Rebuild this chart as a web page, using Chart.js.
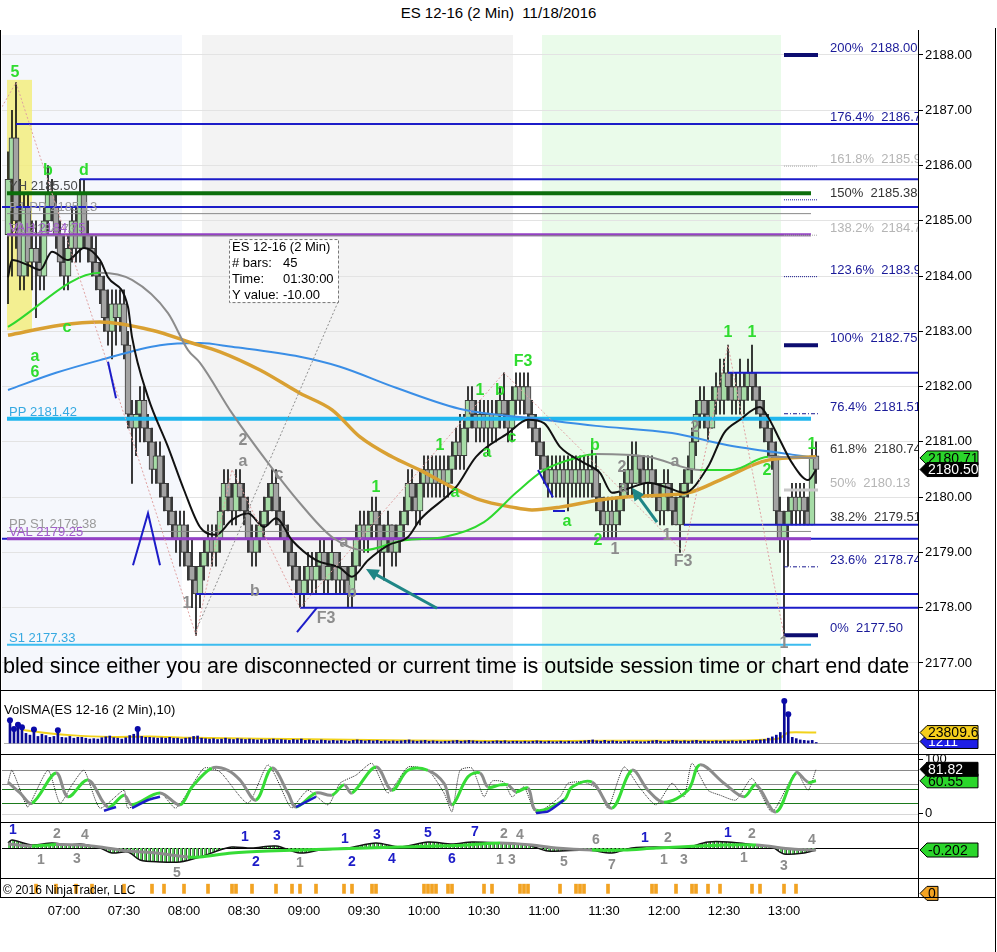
<!DOCTYPE html>
<html>
<head>
<meta charset="utf-8">
<title>ES 12-16 (2 Min) 11/18/2016</title>
<script src="https://cdn.jsdelivr.net/npm/chart.js@4.4.1/dist/chart.umd.min.js"></script>
<style>
  html, body { margin: 0; padding: 0; background: #fff; }
  body { position: relative; width: 997px; height: 952px; overflow: hidden; font-family: Arial, "Liberation Sans", sans-serif; }
  #title { position: absolute; left: 0; top: 4px; width: 997px; text-align: center; font-size: 15px; color: #000; }
  canvas { position: absolute; left: 0; }
  .rule { position: absolute; background: #000; }
</style>
</head>
<body>
<div id="title">ES 12-16 (2 Min)&nbsp; 11/18/2016</div>
<canvas id="priceChart" width="997" height="660" style="top:30px"></canvas>
<canvas id="volChart" width="997" height="64" style="top:690px"></canvas>
<canvas id="stochChart" width="997" height="68" style="top:754px"></canvas>
<canvas id="macdChart" width="997" height="56" style="top:822px"></canvas>
<canvas id="stripChart" width="997" height="52" style="top:878px"></canvas>
<div class="rule" style="left:0;top:30px;width:1px;height:868px"></div>
<div class="rule" style="left:918px;top:30px;width:1px;height:868px"></div>
<div class="rule" style="left:995px;top:28px;width:1px;height:924px"></div>
<div class="rule" style="left:0;top:690px;width:996px;height:1px"></div>
<div class="rule" style="left:0;top:754px;width:996px;height:1px"></div>
<div class="rule" style="left:0;top:822px;width:996px;height:1px"></div>
<div class="rule" style="left:0;top:878px;width:996px;height:1px"></div>
<div class="rule" style="left:0;top:897px;width:996px;height:1px"></div>
<script>
const FONT = 'Arial, "Liberation Sans", sans-serif';
Chart.defaults.font.family = FONT;
Chart.defaults.font.size = 13;
Chart.defaults.color = '#000';

// --- 2 min bars, index 0 = 06:32 ... 202 = 13:16 ---
const open = [
  2184.75, 2185.75, 2186.5, 2185.0, 2184.0, 2185.25, 2184.25, 2184.5, 2184.25, 2184.0,
  2185.0, 2185.5, 2185.25, 2184.75, 2184.25, 2184.0, 2184.5, 2185.0, 2184.5, 2185.5,
  2184.75, 2184.5, 2184.25, 2184.0, 2183.75, 2183.25, 2183.0, 2183.5, 2183.25, 2183.5,
  2182.75, 2181.5, 2181.25, 2181.5, 2181.75, 2181.25, 2181.0, 2180.5, 2180.75, 2180.25,
  2180.0, 2179.75, 2179.5, 2179.25, 2179.5, 2179.0, 2178.75, 2178.5, 2178.25, 2178.75,
  2179.0, 2179.25, 2179.0, 2179.25, 2179.75, 2180.25, 2180.0, 2179.75, 2180.25, 2180.0,
  2179.75, 2179.25, 2179.0, 2179.25, 2179.5, 2179.75, 2180.0, 2180.25, 2179.75, 2179.5,
  2179.25, 2179.0, 2178.75, 2178.5, 2178.25, 2178.5, 2178.75, 2178.5, 2178.75, 2179.0,
  2178.5, 2178.75, 2179.0, 2178.5, 2178.75, 2178.5, 2178.25, 2178.75, 2179.25, 2179.5,
  2179.25, 2179.5, 2179.75, 2179.5, 2179.0, 2179.25, 2179.5, 2179.0, 2179.25, 2179.5,
  2179.75, 2180.25, 2180.0, 2179.75, 2180.25, 2180.5, 2180.25, 2180.5, 2180.25, 2180.5,
  2180.25, 2180.5, 2180.75, 2181.0, 2180.75, 2181.25, 2181.75, 2181.5, 2181.25, 2181.5,
  2181.25, 2181.5, 2181.25, 2181.5, 2181.75, 2181.5, 2181.25, 2181.75, 2182.0, 2181.75,
  2182.0, 2181.5, 2181.25, 2181.0, 2180.75, 2180.5, 2180.25, 2180.5, 2180.25, 2180.5,
  2180.25, 2180.5, 2180.25, 2180.5, 2180.25, 2180.5, 2180.25, 2180.5, 2180.0, 2179.75,
  2179.5, 2179.75, 2179.5, 2179.75, 2180.0, 2180.25, 2180.5, 2180.25, 2180.75, 2180.5,
  2180.25, 2180.5, 2180.25, 2180.0, 2179.75, 2180.25, 2180.0, 2179.75, 2179.5, 2180.0,
  2180.25, 2180.5, 2181.0, 2181.5, 2181.75, 2181.5, 2181.25, 2181.75, 2182.0, 2181.75,
  2182.25, 2182.0, 2181.75, 2182.0, 2181.75, 2182.0, 2182.25, 2182.0, 2181.75, 2181.5,
  2181.25, 2181.0, 2180.75, 2179.75, 2179.25, 2179.5, 2179.75, 2180.0, 2179.75, 2180.0,
  2179.75, 2179.5, 2180.75
];
const high = [
  2186.25, 2187.0, 2187.5, 2185.75, 2185.5, 2185.5, 2185.0, 2185.0, 2184.75, 2185.25,
  2186.0, 2185.75, 2185.5, 2185.0, 2184.75, 2184.75, 2185.25, 2185.25, 2185.75, 2185.75,
  2185.0, 2184.75, 2184.75, 2184.25, 2184.0, 2183.75, 2183.75, 2183.75, 2183.75, 2183.75,
  2183.0, 2181.75, 2181.75, 2182.0, 2182.0, 2181.5, 2181.25, 2181.0, 2181.0, 2180.75,
  2180.25, 2180.0, 2179.75, 2179.75, 2179.75, 2179.5, 2179.25, 2178.75, 2179.0, 2179.25,
  2179.5, 2179.5, 2179.5, 2180.0, 2180.5, 2180.5, 2180.25, 2180.5, 2180.5, 2180.25,
  2180.0, 2179.5, 2179.5, 2179.75, 2180.0, 2180.25, 2180.5, 2180.5, 2180.0, 2179.75,
  2179.5, 2179.25, 2179.0, 2178.75, 2178.75, 2179.0, 2179.0, 2179.0, 2179.25, 2179.25,
  2179.0, 2179.25, 2179.0, 2179.0, 2178.75, 2178.75, 2179.0, 2179.5, 2179.75, 2179.75,
  2179.75, 2180.0, 2180.0, 2179.75, 2179.5, 2179.75, 2179.5, 2179.5, 2179.75, 2180.0,
  2180.5, 2180.5, 2180.25, 2180.5, 2180.75, 2180.75, 2180.75, 2180.75, 2180.75, 2180.75,
  2180.75, 2181.0, 2181.25, 2181.5, 2181.5, 2182.0, 2182.0, 2181.75, 2181.75, 2181.75,
  2181.75, 2181.75, 2181.75, 2182.0, 2182.25, 2181.75, 2182.0, 2182.25, 2182.25, 2182.25,
  2182.25, 2181.75, 2181.5, 2181.25, 2181.0, 2180.75, 2180.75, 2180.75, 2180.75, 2180.75,
  2180.75, 2180.75, 2180.75, 2180.75, 2180.75, 2180.75, 2181.0, 2180.75, 2180.25, 2180.0,
  2180.0, 2180.0, 2180.0, 2180.25, 2180.5, 2180.75, 2181.0, 2181.0, 2180.75, 2180.75,
  2180.75, 2180.75, 2180.5, 2180.25, 2180.5, 2180.5, 2180.25, 2180.0, 2180.25, 2180.5,
  2180.75, 2181.25, 2181.75, 2182.0, 2182.0, 2181.75, 2182.0, 2182.25, 2182.5, 2182.5,
  2182.75, 2182.25, 2182.25, 2182.5, 2182.25, 2182.5, 2182.75, 2182.25, 2182.0, 2181.75,
  2181.5, 2181.25, 2181.0, 2180.0, 2179.75, 2180.0, 2180.25, 2180.25, 2180.25, 2180.25,
  2180.0, 2181.0, 2181.0
];
const low = [
  2183.5, 2184.0, 2184.5, 2183.75, 2183.75, 2184.0, 2183.75, 2183.25, 2183.75, 2183.75,
  2184.75, 2185.0, 2184.5, 2184.0, 2183.75, 2183.75, 2184.25, 2184.25, 2184.25, 2184.5,
  2184.25, 2184.0, 2183.75, 2183.5, 2183.0, 2182.75, 2182.5, 2182.75, 2183.0, 2182.5,
  2181.25, 2180.25, 2180.75, 2181.0, 2181.0, 2180.75, 2180.25, 2180.25, 2180.0, 2179.75,
  2179.5, 2179.25, 2179.0, 2178.75, 2178.75, 2178.5, 2178.0, 2177.5, 2178.0, 2178.5,
  2178.75, 2178.75, 2178.75, 2179.0, 2179.5, 2179.75, 2179.5, 2179.5, 2179.75, 2179.5,
  2179.0, 2178.75, 2178.75, 2179.0, 2179.25, 2179.5, 2179.75, 2179.5, 2179.25, 2179.0,
  2178.75, 2178.5, 2178.25, 2178.0, 2178.0, 2178.25, 2178.25, 2178.25, 2178.5, 2178.25,
  2178.25, 2178.5, 2178.25, 2178.25, 2178.25, 2178.0, 2178.0, 2178.5, 2178.75, 2179.0,
  2179.0, 2179.25, 2179.25, 2178.75, 2178.5, 2179.0, 2178.75, 2178.75, 2179.0, 2179.25,
  2179.5, 2179.75, 2179.5, 2179.5, 2180.0, 2180.0, 2180.0, 2180.0, 2180.0, 2180.0,
  2180.0, 2180.25, 2180.5, 2180.5, 2180.5, 2181.0, 2181.25, 2181.0, 2181.0, 2181.0,
  2180.75, 2181.0, 2181.0, 2181.25, 2181.25, 2181.0, 2181.0, 2181.5, 2181.5, 2181.5,
  2181.25, 2181.0, 2180.75, 2180.5, 2180.25, 2180.0, 2180.0, 2180.0, 2180.0, 2180.0,
  2179.75, 2180.0, 2180.0, 2180.0, 2180.0, 2180.0, 2180.0, 2179.75, 2179.5, 2179.25,
  2179.25, 2179.25, 2179.25, 2179.5, 2179.75, 2180.0, 2180.0, 2180.25, 2180.25, 2180.0,
  2180.0, 2180.0, 2179.75, 2179.5, 2179.5, 2179.75, 2179.5, 2179.5, 2179.0, 2179.5,
  2180.0, 2180.25, 2180.75, 2181.25, 2181.25, 2181.0, 2181.25, 2181.5, 2181.5, 2181.5,
  2181.75, 2181.5, 2181.5, 2181.5, 2181.5, 2181.75, 2181.75, 2181.5, 2181.25, 2181.0,
  2180.75, 2180.5, 2179.5, 2179.0, 2177.5, 2178.75, 2179.5, 2179.5, 2179.5, 2179.5,
  2179.5, 2179.5, 2180.25
];
const close = [
  2185.75, 2186.5, 2185.0, 2184.0, 2185.25, 2184.25, 2184.5, 2184.25, 2184.0, 2185.0,
  2185.5, 2185.25, 2184.75, 2184.25, 2184.0, 2184.5, 2185.0, 2184.5, 2185.5, 2184.75,
  2184.5, 2184.25, 2184.0, 2183.75, 2183.25, 2183.0, 2183.5, 2183.25, 2183.5, 2182.75,
  2181.5, 2181.25, 2181.5, 2181.75, 2181.25, 2181.0, 2180.5, 2180.75, 2180.25, 2180.0,
  2179.75, 2179.5, 2179.25, 2179.5, 2179.0, 2178.75, 2178.5, 2178.25, 2178.75, 2179.0,
  2179.25, 2179.0, 2179.25, 2179.75, 2180.25, 2180.0, 2179.75, 2180.25, 2180.0, 2179.75,
  2179.25, 2179.0, 2179.25, 2179.5, 2179.75, 2180.0, 2180.25, 2179.75, 2179.5, 2179.25,
  2179.0, 2178.75, 2178.5, 2178.25, 2178.5, 2178.75, 2178.5, 2178.75, 2179.0, 2178.5,
  2178.75, 2179.0, 2178.5, 2178.75, 2178.5, 2178.25, 2178.75, 2179.25, 2179.5, 2179.25,
  2179.5, 2179.75, 2179.5, 2179.0, 2179.25, 2179.5, 2179.0, 2179.25, 2179.5, 2179.75,
  2180.25, 2180.0, 2179.75, 2180.25, 2180.5, 2180.25, 2180.5, 2180.25, 2180.5, 2180.25,
  2180.5, 2180.75, 2181.0, 2180.75, 2181.25, 2181.75, 2181.5, 2181.25, 2181.5, 2181.25,
  2181.5, 2181.25, 2181.5, 2181.75, 2181.5, 2181.25, 2181.75, 2182.0, 2181.75, 2182.0,
  2181.5, 2181.25, 2181.0, 2180.75, 2180.5, 2180.25, 2180.5, 2180.25, 2180.5, 2180.25,
  2180.5, 2180.25, 2180.5, 2180.25, 2180.5, 2180.25, 2180.5, 2180.0, 2179.75, 2179.5,
  2179.75, 2179.5, 2179.75, 2180.0, 2180.25, 2180.5, 2180.25, 2180.75, 2180.5, 2180.25,
  2180.5, 2180.25, 2180.0, 2179.75, 2180.25, 2180.0, 2179.75, 2179.5, 2180.0, 2180.25,
  2180.5, 2181.0, 2181.5, 2181.75, 2181.5, 2181.25, 2181.75, 2182.0, 2181.75, 2182.25,
  2182.0, 2181.75, 2182.0, 2181.75, 2182.0, 2182.25, 2182.0, 2181.75, 2181.5, 2181.25,
  2181.0, 2180.75, 2179.75, 2179.25, 2179.5, 2179.75, 2180.0, 2179.75, 2180.0, 2179.75,
  2179.5, 2180.75, 2180.5
];
const volume = [
  52000, 32000, 42000, 36000, 22000, 18000, 31000, 15000, 20000, 17000,
  13000, 15000, 29000, 13000, 12000, 15000, 11000, 13000, 13000, 11000,
  9000, 10000, 9000, 12000, 14000, 16000, 12000, 11000, 9000, 12000,
  17000, 20000, 32000, 15000, 13000, 13000, 12000, 11000, 12000, 11000,
  13000, 11000, 11000, 9000, 11000, 12000, 15000, 16000, 11000, 10000,
  9000, 10000, 8000, 9000, 11000, 9000, 8000, 10000, 9000, 8000,
  9000, 8000, 7000, 8000, 7000, 8000, 9000, 7000, 8000, 7000,
  6000, 8000, 7000, 9000, 6000, 7000, 6000, 5000, 7000, 6000,
  5000, 6000, 5000, 6000, 5000, 4000, 6000, 7000, 6000, 5000,
  6000, 5000, 6000, 4000, 5000, 4000, 5000, 4000, 5000, 6000,
  7000, 5000, 4000, 5000, 6000, 4000, 5000, 4000, 3000, 4000,
  4000, 5000, 6000, 4000, 5000, 6000, 5000, 4000, 3000, 4000,
  3000, 4000, 5000, 4000, 5000, 3000, 4000, 4000, 3000, 4000,
  3000, 4000, 5000, 4000, 3000, 4000, 3000, 3000, 4000, 3000,
  4000, 3000, 3000, 4000, 5000, 6000, 7000, 5000, 4000, 6000,
  4000, 5000, 4000, 3000, 4000, 5000, 3000, 4000, 3000, 3000,
  4000, 5000, 6000, 4000, 3000, 4000, 6000, 5000, 4000, 5000,
  4000, 5000, 6000, 4000, 5000, 4000, 4000, 5000, 4000, 5000,
  4000, 5000, 4000, 5000, 4000, 6000, 5000, 6000, 7000, 8000,
  11000, 14000, 18000, 24000, 96000, 66000, 13000, 10000, 7000, 6000,
  5000, 6000, 1211
];
const volumeDots = [0, 1, 2, 3, 6, 12, 32, 194, 195];
const volumeSma = [[3, 30000], [8, 24000], [15, 18000], [25, 14000], [35, 15000], [45, 12000], [55, 11000],
  [70, 9000], [90, 7000], [110, 5000], [130, 4500], [150, 5000], [170, 5000], [185, 6000], [190, 8000],
  [193, 11000], [194, 18000], [195, 24000], [202, 23809.6]];

// --- moving averages: [bar index, price] ---
const fastMa = [[0, 2183.98], [1, 2184.29], [5, 2184.2], [8, 2184.11], [11, 2184.44], [15, 2184.29], [19, 2184.51],
  [23, 2184.29], [25, 2183.98], [30, 2183.44], [31, 2182.9], [35, 2181.81], [40, 2180.91], [44, 2180.13],
  [48, 2179.46], [52, 2179.32], [56, 2179.59], [60, 2179.71], [64, 2179.46], [67, 2179.62], [71, 2179.22],
  [77, 2178.86], [83, 2178.72], [86, 2178.56], [90, 2178.86], [95, 2179.13], [100, 2179.28], [103, 2179.59],
  [112, 2180.18], [117, 2180.73], [125, 2181.16], [130, 2181.4], [134, 2181.34], [138, 2180.91], [144, 2180.62],
  [148, 2180.44], [151, 2180.08], [156, 2180.18], [160, 2180.26], [165, 2180.17], [169, 2180.08], [175, 2180.55],
  [179, 2181.16], [183, 2181.4], [188, 2181.63], [190, 2181.45], [193, 2181.03], [196, 2180.62], [200, 2180.31],
  [202, 2180.49]];
const trendMa = [[0, 2183.08], [23, 2184.06], [31, 2183.93], [40, 2183.33], [45, 2182.66], [48, 2182.43],
  [56, 2181.52], [65, 2180.62], [73, 2179.89], [81, 2179.28], [89, 2179.04], [99, 2179.22], [109, 2179.28],
  [119, 2179.55], [127, 2180.08], [134, 2180.49], [143, 2180.73], [147, 2180.78], [160, 2180.73], [173, 2180.49],
  [181, 2180.49], [190, 2180.73], [202, 2180.71]];
const slowMa = [[0, 2182.93], [13, 2183.11], [23, 2183.17], [36, 2183.02], [46, 2182.79], [53, 2182.63],
  [63, 2182.3], [73, 2181.88], [81, 2181.58], [88, 2181.09], [96, 2180.73], [103, 2180.49], [111, 2180.18],
  [118, 2179.95], [126, 2179.82], [131, 2179.77], [138, 2179.82], [148, 2179.95], [158, 2180.02], [170, 2180.08],
  [178, 2180.31], [190, 2180.67], [202, 2180.73]];
const longMa = [[0, 2181.94], [12, 2182.25], [23, 2182.48], [38, 2182.75], [48, 2182.79], [56, 2182.72],
  [73, 2182.54], [83, 2182.36], [97, 2181.98], [114, 2181.58], [131, 2181.43], [147, 2181.29], [166, 2181.16],
  [180, 2180.94], [196, 2180.77], [202, 2180.71]];

// --- axis ticks ---
const priceTicks = [2177, 2178, 2179, 2180, 2181, 2182, 2183, 2184, 2185, 2186, 2187, 2188];
const timeTickIdx = [14, 29, 44, 59, 74, 89, 104, 119, 134, 149, 164, 179, 194];
const timeTickLabels = ['07:00', '07:30', '08:00', '08:30', '09:00', '09:30', '10:00', '10:30', '11:00', '11:30', '12:00', '12:30', '13:00'];

// --- levels ---
const pivotNames = ['YH', 'R1 PP', 'R1', 'VAH', 'PP', 'PP S1', 'VAL', 'S1'];
const pivotPrices = [2185.50, 2185.13, 2184.73, 2184.75, 2181.42, 2179.38, 2179.25, 2177.33];
const swingLevels = [2186.75, 2185.75, 2185.25, 2182.25, 2179.50, 2179.25, 2178.25, 2178.00];
const swingLevelStart = [2, 18, -1.5, 180, 169, -1.5, 47, 73];
const fibPct = ['200%', '176.4%', '161.8%', '150%', '138.2%', '123.6%', '100%', '76.4%', '61.8%', '50%', '38.2%', '23.6%', '0%'];
const fibPrices = [2188.00, 2186.76, 2185.99, 2185.38, 2184.74, 2183.99, 2182.75, 2181.51, 2180.74, 2180.13, 2179.51, 2178.74, 2177.50];

// --- drawings ---
const sessionBands = [[-2, 43.5], [48.5, 126.25], [133.5, 193.25]];
const highlightBox = [[-0.25, 2187.55], [6, 2183.02]];
const zigzag = [[-2, 2187.0], [2, 2187.5], [47, 2177.5], [56, 2180.5], [73, 2178.0], [124, 2182.25], [169, 2179.0], [180, 2182.75], [194, 2177.5]];
const measureLine = [[82.5, 2183.53], [46.75, 2177.54]];
const blueMarks = [[[25, 2182.45], [27, 2181.79]], [[31.25, 2178.77], [35, 2179.71], [38, 2178.77]],
  [[72.25, 2177.56], [77.25, 2178.0]], [[132.5, 2180.49], [136.25, 2180.0]], [[136.25, 2179.75], [139.25, 2179.75]]];
const arrows = [[[107.25, 2177.99], [89.5, 2178.7]], [[162.25, 2179.55], [156, 2180.17]]];
const infoBox = [[55.25, 2184.67], [82.5, 2183.53]];
const infoLines = [['ES 12-16 (2 Min)', ''], ['# bars:', '45'], ['Time:', '01:30:00'], ['Y value:', '-10.00']];
const greenMarks = [['5', 1.75, 2187.69], ['b', 10, 2185.9], ['d', 19, 2185.9], ['c', 14.75, 2183.06], ['a', 6.75, 2182.55],
  ['6', 6.75, 2182.25], ['1', 92, 2180.17], ['1', 108, 2180.93], ['a', 111.75, 2180.09], ['1', 118, 2181.92],
  ['b', 123, 2181.92], ['F3', 128.75, 2182.45], ['a', 119.75, 2180.8], ['c', 126, 2181.07], ['b', 146.75, 2180.93],
  ['a', 139.75, 2179.55], ['2', 147.5, 2179.22], ['1', 180, 2182.97], ['1', 186, 2182.97], ['2', 189.75, 2180.49],
  ['1', 201, 2180.96]];
const grayMarks = [['2', 58.75, 2181.02], ['a', 58.75, 2180.65], ['c', 67.75, 2180.4], ['1', 44.75, 2178.07],
  ['b', 61.75, 2178.3], ['F3', 79.5, 2177.81], ['b', 86, 2178.28], ['a', 84, 2179.17], ['2', 153.5, 2180.53],
  ['a', 153.75, 2180.18], ['1', 151.75, 2179.06], ['1', 164.75, 2179.3], ['F3', 168.75, 2178.83],
  ['a', 166.75, 2180.64], ['2', 171.75, 2181.25], ['1', 194, 2177.36]];

// --- stochastics ---
const stochSlow = [[0, 58], [3, 38], [6, 19], [12, 75], [15, 31], [20, 62], [25, 12], [29, 34], [31, 16], [38, 38],
  [43, 16], [46, 49], [51, 84], [55, 80], [58, 62], [62, 25], [66, 84], [70, 38], [72, 12], [77, 38], [81, 34],
  [84, 53], [86, 38], [92, 86], [96, 43], [100, 80], [105, 80], [109, 56], [111, 16], [115, 68], [118, 75],
  [120, 49], [123, 53], [125, 53], [127, 40], [130, 47], [132, 6], [139, 25], [141, 49], [146, 58], [151, 10],
  [156, 80], [160, 43], [164, 21], [170, 43], [173, 90], [179, 56], [184, 31], [187, 53], [192, 3], [197, 75],
  [200, 58], [202, 60.55]];
const stochFast = [[0, 58], [1, 80], [4, 25], [5, 12], [10, 80], [13, 19], [16, 53], [19, 80], [23, 10], [29, 43],
  [30, 10], [38, 38], [42, 10], [49, 84], [53, 77], [60, 19], [65, 90], [70, 19], [71, 10], [75, 43], [80, 16],
  [83, 56], [87, 71], [91, 93], [95, 38], [100, 86], [105, 80], [109, 38], [111, 3], [113, 80], [116, 84],
  [119, 31], [121, 60], [124, 58], [126, 31], [129, 49], [132, 2], [138, 31], [140, 56], [144, 58], [148, 43],
  [150, 10], [154, 86], [158, 47], [162, 16], [166, 56], [169, 31], [171, 93], [175, 43], [178, 34], [182, 25],
  [186, 65], [191, 3], [197, 77], [200, 43], [202, 81.82]];
const stochBlue = [[[24, 5], [27, 12]], [[31, 10], [35, 25], [38, 31]], [[72, 12], [77, 31]], [[132, 1], [135, 4], [139, 25]]];
const stochLevels = [80, 55, 45, 20, 0];

// --- MACD ---
const macdLine = [[0, 0.5], [1, 0.8], [6, 0.3], [11, 0.5], [15, 0.3], [18, 0.4], [23, 0.0], [26, -0.5], [30, -0.4],
  [33, -1.2], [38, -1.4], [43, -1.4], [48, -0.9], [53, -0.2], [56, 0.1], [61, 0.0], [67, 0.2], [73, -0.5],
  [78, -0.2], [85, 0.0], [92, 0.5], [98, 0.1], [105, 0.6], [111, 0.4], [116, 0.6], [123, 0.5], [130, 0.3],
  [135, -0.3], [145, -0.2], [151, -0.5], [156, 0.0], [162, 0.1], [169, 0.0], [175, 0.6], [180, 0.6], [187, 0.3],
  [191, 0.1], [194, -0.6], [199, -0.5], [202, -0.202]];
const macdSignal = [[0, 0.4], [6, 0.2], [12, 0.35], [18, 0.3], [23, 0.1], [30, -0.3], [37, -0.5], [45, -0.9],
  [48, -0.9], [56, -0.5], [65, -0.3], [81, -0.1], [98, 0.1], [115, 0.3], [123, 0.5], [131, 0.3], [137, 0.0],
  [146, -0.2], [154, -0.2], [162, 0.0], [179, 0.3], [187, 0.3], [196, -0.1], [202, -0.2]];
const macdBlueMarks = [['1', 1.25, 1.8], ['1', 59.25, 1.1], ['3', 67.25, 1.2], ['2', 62, -1.4], ['1', 84.25, 0.9],
  ['3', 92.25, 1.3], ['2', 86, -1.4], ['4', 96, -1.1], ['5', 105, 1.5], ['6', 111, -1.1], ['7', 116.75, 1.6],
  ['1', 159.25, 1.0], ['1', 180, 1.5]];
const macdGrayMarks = [['2', 12.25, 1.4], ['4', 19.25, 1.3], ['1', 8.25, -1.2], ['3', 17.25, -1.1], ['5', 42.25, -2.5],
  ['1', 73, -1.5], ['2', 124, 1.4], ['4', 128, 1.3], ['1', 123, -1.2], ['3', 126, -1.2], ['5', 139, -1.4],
  ['6', 147, 0.8], ['7', 151, -1.7], ['2', 165, 1.0], ['1', 164, -1.2], ['3', 169, -1.2], ['2', 186, 1.4],
  ['1', 184, -1.0], ['3', 194, -1.8], ['4', 201, 0.8]];

// --- signal strip ---
const signalBars = [7, 12, 17, 21, 29, 36, 39, 44, 50, 56, 57, 61, 67, 71, 73, 77, 84, 86, 91, 92, 104, 105, 106, 107,
  110, 111, 119, 121, 128, 129, 130, 138, 142, 143, 144, 150, 161, 162, 167, 171, 172, 175, 178, 186, 188, 194, 197];

// --- helpers ---
const X_MIN = -1.5, X_MAX = 227.5;
const bars = open.map((o, i) => i);
const pts = arr => arr.map(([i, v]) => ({ x: i, y: v }));

function polyline(ctx, sx, sy, list) {
  ctx.beginPath();
  list.forEach(([i, v], k) => {
    const px = sx.getPixelForValue(i), py = sy.getPixelForValue(v);
    if (k) ctx.lineTo(px, py); else ctx.moveTo(px, py);
  });
  ctx.stroke();
}

function drawArrow(ctx, sx, sy, from, to) {
  const x0 = sx.getPixelForValue(from[0]), y0 = sy.getPixelForValue(from[1]);
  const x1 = sx.getPixelForValue(to[0]), y1 = sy.getPixelForValue(to[1]);
  const ang = Math.atan2(y1 - y0, x1 - x0);
  ctx.strokeStyle = ctx.fillStyle = '#1f8686';
  ctx.lineWidth = 3;
  ctx.beginPath();
  ctx.moveTo(x0, y0);
  ctx.lineTo(x1 - 9 * Math.cos(ang), y1 - 9 * Math.sin(ang));
  ctx.stroke();
  ctx.beginPath();
  ctx.moveTo(x1, y1);
  ctx.lineTo(x1 - 14 * Math.cos(ang - 0.45), y1 - 14 * Math.sin(ang - 0.45));
  ctx.lineTo(x1 - 14 * Math.cos(ang + 0.45), y1 - 14 * Math.sin(ang + 0.45));
  ctx.closePath();
  ctx.fill();
}

function drawTag(ctx, yc, text, bg, fg, w) {
  const x0 = 920, h = 14;
  w = w || 58;
  ctx.beginPath();
  ctx.moveTo(x0, yc);
  ctx.lineTo(x0 + 7, yc - h / 2);
  ctx.lineTo(x0 + w, yc - h / 2);
  ctx.lineTo(x0 + w, yc + h / 2);
  ctx.lineTo(x0 + 7, yc + h / 2);
  ctx.closePath();
  ctx.fillStyle = bg;
  ctx.fill();
  ctx.strokeStyle = '#000';
  ctx.lineWidth = 1;
  ctx.stroke();
  ctx.fillStyle = fg;
  ctx.font = '14px ' + FONT;
  ctx.textAlign = 'left';
  ctx.textBaseline = 'middle';
  ctx.fillText(text, x0 + 8, yc + 1);
}

function marks(ctx, sx, sy, list, color, font) {
  ctx.fillStyle = color;
  ctx.font = font;
  ctx.textAlign = 'center';
  ctx.textBaseline = 'middle';
  list.forEach(([t, i, v]) => ctx.fillText(t, sx.getPixelForValue(i), sy.getPixelForValue(v)));
}

function clipArea(ctx, a) {
  ctx.beginPath();
  ctx.rect(a.left, a.top, a.right - a.left, a.bottom - a.top);
  ctx.clip();
}

function panelOptions(yOpts, xOpts) {
  return {
    responsive: false,
    animation: false,
    events: [],
    layout: { padding: { left: 2, right: 0, top: 0, bottom: 0 } },
    plugins: { legend: { display: false }, tooltip: { enabled: false } },
    scales: {
      x: Object.assign({ type: 'linear', min: X_MIN, max: X_MAX, offset: false, display: false, grid: { display: false, offset: false } }, xOpts || {}),
      y: Object.assign({
        position: 'right',
        ticks: { display: false },
        grid: { display: false },
        border: { display: false },
        afterFit: s => { s.width = 79; s.paddingTop = 0; s.paddingBottom = 0; }
      }, yOpts)
    }
  };
}

function levelLine(from, to, price, color, width, dash, order) {
  return { type: 'line', data: [{ x: from, y: price }, { x: to, y: price }], borderColor: color, borderWidth: width,
    borderDash: dash || [], pointRadius: 0, tension: 0, order: order };
}

// --- styles ---
const pivotStyle = {
  'YH': { color: '#0b6e0b', width: 4, text: '#4a4a4a' },
  'R1 PP': { color: '#8a8a8a', width: 1, text: '#9a9a9a' },
  'R1': { color: '#8a8a8a', width: 1, text: '#9a9a9a' },
  'VAH': { color: '#9440c4', width: 3, text: '#a25bcc' },
  'PP': { color: '#1fb6ee', width: 4, text: '#36a9e1' },
  'PP S1': { color: '#8a8a8a', width: 1, text: '#9a9a9a' },
  'VAL': { color: '#9440c4', width: 3, text: '#a25bcc' },
  'S1': { color: '#3cbcef', width: 2, text: '#36a9e1' }
};
function fibLine(pct) {
  if (['200%', '100%', '0%'].includes(pct)) return { color: '#0d0d70', width: 4, dash: [] };
  if (['161.8%', '138.2%'].includes(pct)) return { color: '#a8a8a8', width: 1, dash: [1, 1] };
  if (['150%', '123.6%'].includes(pct)) return { color: '#1a1a90', width: 1, dash: [1, 1] };
  if (['76.4%', '23.6%'].includes(pct)) return { color: '#1a1a90', width: 1, dash: [4, 2, 1, 2] };
  if (pct === '50%') return { color: '#c8c8c8', width: 3, dash: [] };
  return null;
}
function fibText(pct) {
  if (['161.8%', '138.2%', '50%'].includes(pct)) return '#b5b5b5';
  if (['150%', '61.8%', '38.2%'].includes(pct)) return '#333333';
  return '#1a1a99';
}
const bandColors = ['#f5f7fc', '#f3f3f3', '#eafbea'];

// --- price panel ---
const priceDatasets = [
  { type: 'bar', data: bars.map(i => ({ x: i, y: [low[i], high[i]] })), backgroundColor: '#111', barThickness: 1, grouped: false, order: 20 },
  { type: 'bar', data: bars.map(i => ({ x: i, y: [Math.min(open[i], close[i]), Math.max(open[i], close[i])] })),
    backgroundColor: c => close[c.dataIndex] >= open[c.dataIndex] ? '#a6dca6' : '#a3a3a3',
    borderColor: '#3a3a3a', borderWidth: 1, borderSkipped: false, barThickness: 6, grouped: false, minBarLength: 1, order: 19 }
];
swingLevels.forEach((p, k) => priceDatasets.push(levelLine(swingLevelStart[k], X_MAX, p, '#1c1cc8', 2, [], 12)));
pivotNames.forEach((n, k) => priceDatasets.push(levelLine(-0.25, 200.75, pivotPrices[k], pivotStyle[n].color, pivotStyle[n].width, [], 11)));
fibPct.forEach((pct, k) => {
  const f = fibLine(pct);
  if (f) priceDatasets.push(levelLine(194, 202.5, fibPrices[k], f.color, f.width, f.dash, 10));
});
priceDatasets.push(
  { type: 'line', data: pts(longMa), borderColor: '#3a8ee6', borderWidth: 2, pointRadius: 0, cubicInterpolationMode: 'monotone', order: 4 },
  { type: 'line', data: pts(slowMa), borderColor: '#d9a032', borderWidth: 3.5, pointRadius: 0, cubicInterpolationMode: 'monotone', order: 3 },
  { type: 'line', data: pts(trendMa), borderColor: '#2ed82e', borderWidth: 2, pointRadius: 0, cubicInterpolationMode: 'monotone', order: 2,
    segment: { borderColor: c => c.p1.parsed.y >= c.p0.parsed.y ? '#2ed82e' : '#8c8c8c' } },
  { type: 'line', data: pts(fastMa), borderColor: '#111', borderWidth: 2, pointRadius: 0, cubicInterpolationMode: 'monotone', order: 1 }
);

const priceDecor = {
  id: 'priceDecor',
  beforeDraw(chart) {
    const { ctx, chartArea: a, scales: { x } } = chart;
    ctx.save();
    sessionBands.forEach(([from, to], k) => {
      const x0 = Math.max(a.left, x.getPixelForValue(from));
      const x1 = Math.min(a.right, x.getPixelForValue(to));
      ctx.fillStyle = bandColors[k];
      ctx.fillRect(x0, a.top + 5, x1 - x0, a.bottom - a.top - 5);
    });
    ctx.restore();
  },
  beforeDatasetsDraw(chart) {
    const { ctx, scales: { x, y } } = chart;
    const [[i0, p0], [i1, p1]] = highlightBox;
    ctx.save();
    ctx.fillStyle = 'rgba(243, 236, 118, 0.8)';
    ctx.fillRect(x.getPixelForValue(i0), y.getPixelForValue(p0),
      x.getPixelForValue(i1) - x.getPixelForValue(i0), y.getPixelForValue(p1) - y.getPixelForValue(p0));
    ctx.restore();
  },
  afterDatasetsDraw(chart) {
    const { ctx, chartArea: a, scales: { x, y } } = chart;
    ctx.save();
    clipArea(ctx, a);

    // swing zigzag and measure line
    ctx.lineWidth = 1;
    ctx.setLineDash([2, 2]);
    ctx.strokeStyle = '#e0a2a2';
    polyline(ctx, x, y, zigzag);
    ctx.strokeStyle = '#8f8f8f';
    polyline(ctx, x, y, measureLine);
    ctx.setLineDash([]);

    // blue trend strokes
    ctx.strokeStyle = '#1c1cc8';
    ctx.lineWidth = 2;
    blueMarks.forEach(m => polyline(ctx, x, y, m));

    arrows.forEach(([from, to]) => drawArrow(ctx, x, y, from, to));

    // pivot labels
    ctx.font = '13px ' + FONT;
    ctx.textAlign = 'left';
    ctx.textBaseline = 'alphabetic';
    pivotNames.forEach((n, k) => {
      ctx.fillStyle = pivotStyle[n].text;
      ctx.fillText(n + ' ' + pivotPrices[k].toFixed(2), x.getPixelForValue(0.25), y.getPixelForValue(pivotPrices[k]) - 3);
    });

    // fib labels
    fibPct.forEach((pct, k) => {
      ctx.fillStyle = fibText(pct);
      ctx.fillText(pct + '  ' + fibPrices[k].toFixed(2), x.getPixelForValue(205.5), y.getPixelForValue(fibPrices[k]) - 3);
    });

    // wave counts
    marks(ctx, x, y, greenMarks, '#2fdc2f', 'bold 16px ' + FONT);
    marks(ctx, x, y, grayMarks, '#8c8c8c', 'bold 16px ' + FONT);

    // info box
    const bx0 = x.getPixelForValue(infoBox[0][0]), by0 = y.getPixelForValue(infoBox[0][1]);
    const bx1 = x.getPixelForValue(infoBox[1][0]), by1 = y.getPixelForValue(infoBox[1][1]);
    ctx.fillStyle = '#fff';
    ctx.fillRect(bx0, by0, bx1 - bx0, by1 - by0);
    ctx.setLineDash([3, 2]);
    ctx.strokeStyle = '#777';
    ctx.lineWidth = 1;
    ctx.strokeRect(bx0 + 0.5, by0 + 0.5, bx1 - bx0, by1 - by0);
    ctx.setLineDash([]);
    ctx.fillStyle = '#000';
    ctx.font = '13px ' + FONT;
    ctx.textAlign = 'left';
    ctx.textBaseline = 'middle';
    infoLines.forEach(([k, v], n) => {
      ctx.fillText(k, bx0 + 3, by0 + 8 + n * 16);
      if (v) ctx.fillText(v, bx0 + 54, by0 + 8 + n * 16);
    });

    // connection message
    ctx.fillStyle = '#000';
    ctx.font = '21.6px ' + FONT;
    ctx.textBaseline = 'alphabetic';
    ctx.fillText('bled since either you are disconnected or current time is outside session time or chart end date', a.left + 1, a.bottom - 17);
    ctx.restore();
  },
  afterDraw(chart) {
    const { ctx, scales: { y } } = chart;
    ctx.save();
    drawTag(ctx, y.getPixelForValue(2180.71), '2180.71', '#2bd62b', '#000');
    drawTag(ctx, y.getPixelForValue(2180.50), '2180.50', '#000', '#fff');
    ctx.restore();
  }
};

const priceOpts = panelOptions({
  position: 'right',
  min: 2176.5115,
  max: 2188.4523,
  afterBuildTicks: s => { s.ticks = priceTicks.map(v => ({ value: v })); },
  ticks: { display: true, callback: v => Number(v).toFixed(2), color: '#000', font: { size: 13 }, padding: 2 },
  grid: { display: true, color: '#e3e3e3', tickColor: '#000', tickLength: 5 },
  border: { display: false },
  afterFit: s => { s.width = 79; s.paddingTop = 0; s.paddingBottom = 0; }
});
new Chart(document.getElementById('priceChart'), {
  type: 'bar',
  data: { datasets: priceDatasets },
  options: priceOpts,
  plugins: [priceDecor]
});

// --- volume panel ---
const volDecor = {
  id: 'volDecor',
  beforeDatasetsDraw(chart) {
    const { ctx, chartArea: a, scales: { y } } = chart;
    ctx.save();
    ctx.strokeStyle = '#b0b0b0';
    ctx.lineWidth = 1;
    ctx.beginPath();
    ctx.moveTo(a.left, Math.round(y.getPixelForValue(0)) + 0.5);
    ctx.lineTo(a.right, Math.round(y.getPixelForValue(0)) + 0.5);
    ctx.stroke();
    ctx.restore();
  },
  afterDatasetsDraw(chart) {
    const { ctx } = chart;
    ctx.save();
    ctx.fillStyle = '#000';
    ctx.font = '13px ' + FONT;
    ctx.textAlign = 'left';
    ctx.textBaseline = 'alphabetic';
    ctx.fillText('VolSMA(ES 12-16 (2 Min),10)', 4, 24);
    ctx.restore();
  },
  afterDraw(chart) {
    const { ctx, scales: { y } } = chart;
    ctx.save();
    drawTag(ctx, y.getPixelForValue(volume[volume.length - 1]) - 1, '1211', '#1f1fe6', '#fff');
    drawTag(ctx, y.getPixelForValue(23809.6), '23809.6', '#f5cf1c', '#000');
    ctx.restore();
  }
};
new Chart(document.getElementById('volChart'), {
  type: 'bar',
  data: { datasets: [
    { type: 'line', data: volumeDots.map(i => ({ x: i, y: volume[i] })), showLine: false, pointRadius: 3,
      pointBackgroundColor: '#0a0aa8', pointBorderWidth: 0, order: 0 },
    { type: 'bar', data: bars.map(i => ({ x: i, y: volume[i] })), backgroundColor: '#0a0a96', barThickness: 2, grouped: false, order: 1 },
    { type: 'line', data: pts(volumeSma), borderColor: '#f2d21b', borderWidth: 2, pointRadius: 0, tension: 0.2, order: 2 }
  ] },
  options: panelOptions({ min: -16000, max: 112000 }),
  plugins: [volDecor]
});

// --- stochastics panel ---
const stochDecor = {
  id: 'stochDecor',
  beforeDatasetsDraw(chart) {
    const { ctx, chartArea: a, scales: { y } } = chart;
    const colors = ['#8a8a8a', '#8a8a8a', '#1d7a1d', '#1d7a1d', '#d6d6d6'];
    ctx.save();
    stochLevels.forEach((v, k) => {
      const py = Math.round(y.getPixelForValue(v)) + 0.5;
      ctx.strokeStyle = colors[k];
      ctx.lineWidth = 1;
      ctx.beginPath();
      ctx.moveTo(a.left, py);
      ctx.lineTo(a.right, py);
      ctx.stroke();
    });
    ctx.restore();
  },
  afterDraw(chart) {
    const { ctx, scales: { y } } = chart;
    ctx.save();
    drawTag(ctx, y.getPixelForValue(60.55), '60.55', '#2bd62b', '#000');
    drawTag(ctx, y.getPixelForValue(81.82), '81.82', '#000', '#fff');
    ctx.restore();
  }
};
const stochDatasets = [
  { type: 'line', data: pts(stochFast), borderColor: '#222', borderWidth: 1, borderDash: [1, 1], pointRadius: 0, tension: 0.2, order: 3 },
  { type: 'line', data: pts(stochSlow), borderColor: '#2ed82e', borderWidth: 3, pointRadius: 0, tension: 0.35, order: 2,
    segment: { borderColor: c => c.p1.parsed.y >= c.p0.parsed.y ? '#36dc36' : '#8c8c8c' } }
];
stochBlue.forEach(seg => stochDatasets.push({ type: 'line', data: pts(seg), borderColor: '#1c1cc8', borderWidth: 2.5, pointRadius: 0, tension: 0.2, order: 1 }));
new Chart(document.getElementById('stochChart'), {
  type: 'line',
  data: { datasets: stochDatasets },
  options: panelOptions({
    min: -15.74, max: 110.19,
    afterBuildTicks: s => { s.ticks = [{ value: 0 }, { value: 100 }]; },
    ticks: { display: true, color: '#000', font: { size: 13 }, padding: 2 },
    grid: { display: true, drawOnChartArea: false, tickColor: '#000', tickLength: 5 },
    border: { display: false },
    afterFit: s => { s.width = 79; s.paddingTop = 0; s.paddingBottom = 0; }
  }),
  plugins: [stochDecor]
});

// --- MACD panel ---
const stripe = document.createElement('canvas');
stripe.width = 4;
stripe.height = 1;
const sctx = stripe.getContext('2d');
sctx.fillStyle = '#5fd05f';
sctx.fillRect(0, 0, 2, 1);
sctx.fillStyle = '#444';
sctx.fillRect(2, 0, 1, 1);
const hatch = sctx.createPattern(stripe, 'repeat');

const macdDecor = {
  id: 'macdDecor',
  beforeDatasetsDraw(chart) {
    const { ctx, chartArea: a, scales: { y } } = chart;
    ctx.save();
    ctx.strokeStyle = '#000';
    ctx.lineWidth = 1;
    ctx.beginPath();
    ctx.moveTo(a.left, Math.round(y.getPixelForValue(0)) + 0.5);
    ctx.lineTo(a.right, Math.round(y.getPixelForValue(0)) + 0.5);
    ctx.stroke();
    ctx.restore();
  },
  afterDatasetsDraw(chart) {
    const { ctx, chartArea: a, scales: { x, y } } = chart;
    ctx.save();
    clipArea(ctx, a);
    marks(ctx, x, y, macdBlueMarks, '#1c1cc8', 'bold 14px ' + FONT);
    marks(ctx, x, y, macdGrayMarks, '#8c8c8c', 'bold 14px ' + FONT);
    ctx.restore();
  },
  afterDraw(chart) {
    const { ctx, scales: { y } } = chart;
    ctx.save();
    drawTag(ctx, y.getPixelForValue(-0.202), '-0.202', '#2bd62b', '#000');
    ctx.restore();
  }
};
new Chart(document.getElementById('macdChart'), {
  type: 'line',
  data: { datasets: [
    { data: pts(macdLine), borderColor: '#111', borderWidth: 1.5, pointRadius: 0, tension: 0.3,
      fill: 'origin', backgroundColor: hatch, order: 2 },
    { data: pts(macdSignal), borderColor: '#2ed82e', borderWidth: 3, pointRadius: 0, tension: 0.3, order: 1,
      segment: { borderColor: c => c.p1.parsed.y >= c.p0.parsed.y ? '#36dc36' : '#8c8c8c' } }
  ] },
  options: panelOptions({ min: -3.0, max: 2.6 }),
  plugins: [macdDecor]
});

// --- signal strip + time axis ---
const stripDecor = {
  id: 'stripDecor',
  afterDatasetsDraw(chart) {
    const { ctx } = chart;
    ctx.save();
    ctx.fillStyle = '#000';
    ctx.font = '12px ' + FONT;
    ctx.textAlign = 'left';
    ctx.textBaseline = 'alphabetic';
    ctx.fillText('\u00a9 2016 NinjaTrader, LLC', 3, 16);
    ctx.restore();
  },
  afterDraw(chart) {
    const { ctx, scales: { y } } = chart;
    ctx.save();
    drawTag(ctx, y.getPixelForValue(0), '0', '#f2a322', '#000', 18);
    ctx.restore();
  }
};
new Chart(document.getElementById('stripChart'), {
  type: 'bar',
  data: { datasets: [
    { data: signalBars.map(i => ({ x: i, y: [0, 0.6] })), backgroundColor: '#f2a322', barThickness: 3, grouped: false }
  ] },
  options: panelOptions({ min: -0.3, max: 1.0 }, {
    display: true,
    afterBuildTicks: s => { s.ticks = timeTickIdx.map(v => ({ value: v })); },
    ticks: { callback: (v, k) => timeTickLabels[k], autoSkip: false, maxRotation: 0, padding: 6, color: '#000', font: { size: 13 } },
    grid: { display: false, drawTicks: false, offset: false },
    border: { display: false },
    afterFit: s => { s.height = 32; s.paddingLeft = 0; s.paddingRight = 0; }
  }),
  plugins: [stripDecor]
});
</script>
</body>
</html>
